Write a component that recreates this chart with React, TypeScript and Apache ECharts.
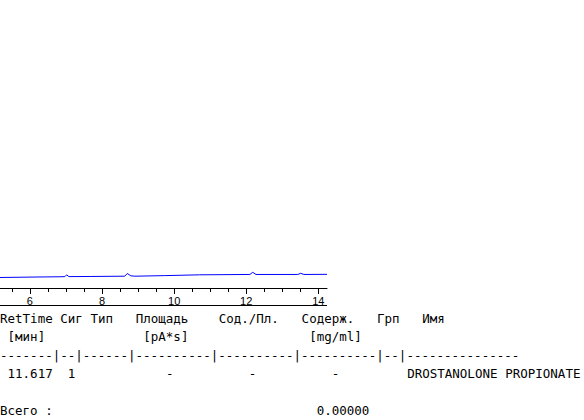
import React, { useEffect, useRef } from "react";
import * as echarts from "echarts";

// Retention time (min) and detector signal (pA)
const times = [5.17, 6.28, 6.83, 6.97, 7.02, 7.08, 7.67, 8.63, 8.7, 8.8, 8.91, 9.74, 10.71, 12.1, 12.18, 12.27, 13.43, 13.51, 13.6, 14.24];
const signal = [1.46, 1.53, 1.56, 1.58, 1.83, 1.58, 1.6, 1.64, 2.01, 1.69, 1.64, 1.72, 1.83, 1.88, 2.18, 1.88, 1.88, 2.04, 1.88, 1.9];

const majorTicks = [6, 8, 10, 12, 14];
const minorTicks = [5.5, 6.5, 7, 7.5, 8.5, 9, 9.5, 10.5, 11, 11.5, 12.5, 13, 13.5, 14.5];

// Report table (fixed-width text)
const reportLines = [
  "RetTime Сиг Тип   Площадь    Сод./Пл.   Содерж.   Грп   Имя",
  " [мин]             [pA*s]                [mg/ml]",
  "-------|--|------|----------|----------|----------|--|---------------",
  " 11.617  1            -          -          -         DROSTANOLONE PROPIONATE",
  "",
  "Всего :                                   0.00000",
];

const X_MIN = 5.17;
const X_MAX = 14.24;

export default function App() {
  const ref = useRef<HTMLDivElement>(null);
  useEffect(() => {
    if (!ref.current) return;
    const chart = echarts.init(ref.current, null, { renderer: "svg" });
    const charW = 7.54;
    const firstMid = 318.5;
    const lineH = 18.4;
    const mono = '"DejaVu Sans Mono", monospace';
    const texts: any[] = [];
    reportLines.forEach((line, li) => {
      const re = /\S+/g;
      let m: RegExpExecArray | null;
      while ((m = re.exec(line)) !== null) {
        texts.push({
          type: "text",
          x: m.index * charW,
          y: firstMid + li * lineH,
          style: {
            text: m[0],
            font: `12.5px ${mono}`,
            fill: "#000",
            textAlign: "left",
            textVerticalAlign: "middle",
          },
        });
      }
    });
    texts.push({
      type: "line",
      shape: { x1: 0, y1: 305.5, x2: 327, y2: 305.5 },
      style: { stroke: "#000", lineWidth: 1 },
    });
    chart.setOption({
      animation: false,
      backgroundColor: "#fff",
      grid: { left: 0, right: 257, top: 0, bottom: 132, outerBoundsMode: "none" },
      xAxis: [
        {
          type: "value",
          min: X_MIN,
          max: X_MAX,
          position: "bottom",
          axisLine: { show: true, onZero: false, lineStyle: { color: "#000", width: 1 } },
          axisTick: { show: true, customValues: majorTicks, length: 6, lineStyle: { color: "#000" } },
          axisLabel: {
            show: true,
            customValues: majorTicks,
            color: "#000",
            fontSize: 11,
            fontFamily: '"Liberation Sans", Arial, sans-serif',
            margin: 7,
          },
          splitLine: { show: false },
        },
        {
          type: "value",
          min: X_MIN,
          max: X_MAX,
          position: "bottom",
          axisLine: { show: false, onZero: false },
          axisTick: { show: true, customValues: minorTicks, length: 4, lineStyle: { color: "#000" } },
          axisLabel: { show: false },
          splitLine: { show: false },
        },
      ],
      yAxis: { type: "value", show: false, min: 0, max: 40 },
      series: [
        {
          type: "line",
          xAxisIndex: 0,
          data: times.map((t, i) => [t, signal[i]]),
          showSymbol: false,
          lineStyle: { color: "#0000ff", width: 1 },
        },
      ],
      graphic: texts,
    });
    return () => chart.dispose();
  }, []);
  return (
    <div
      ref={ref}
      style={{ position: "fixed", left: 0, top: 0, width: 584, height: 420, background: "#fff" }}
    />
  );
}
